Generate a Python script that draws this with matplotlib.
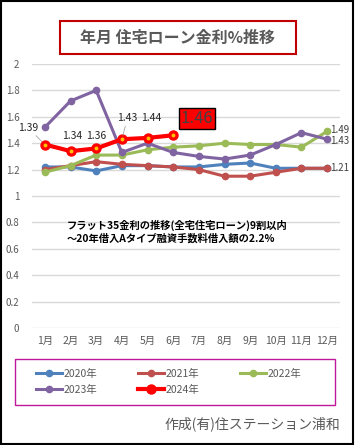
"""Monthly flat-35 housing loan rate chart, 2020-2024."""
import matplotlib
matplotlib.use("Agg")
import matplotlib.pyplot as plt
from matplotlib.patches import Rectangle

plt.rcParams["font.family"] = ["Noto Sans CJK JP", "DejaVu Sans"]

months = ["1月", "2月", "3月", "4月", "5月", "6月", "7月", "8月", "9月", "10月", "11月", "12月"]
rate_2020 = [1.22, 1.22, 1.19, 1.23, 1.23, 1.22, 1.22, 1.24, 1.25, 1.21, 1.21, 1.21]
rate_2021 = [1.20, 1.23, 1.26, 1.24, 1.23, 1.22, 1.20, 1.15, 1.15, 1.18, 1.21, 1.21]
rate_2022 = [1.18, 1.23, 1.31, 1.31, 1.35, 1.37, 1.38, 1.40, 1.39, 1.39, 1.37, 1.49]
rate_2023 = [1.52, 1.72, 1.80, 1.33, 1.40, 1.33, 1.30, 1.28, 1.31, 1.39, 1.48, 1.43]
rate_2024 = [1.39, 1.34, 1.36, 1.43, 1.44, 1.46]
yticks = [0, 0.2, 0.4, 0.6, 0.8, 1, 1.2, 1.4, 1.6, 1.8, 2]

W, H = 355, 445
fig = plt.figure(figsize=(W / 100, H / 100), dpi=100)
fig.patches.append(Rectangle((0.002, 0.002), 0.993, 0.995, transform=fig.transFigure,
                             fill=False, edgecolor="black", linewidth=1.5))

# title box
fig.patches.append(Rectangle((60 / W, 1 - 54 / H), 236 / W, 33 / H, transform=fig.transFigure,
                             fill=False, edgecolor="#C00000", linewidth=1.5))
fig.text(178 / W, 1 - 37.5 / H, "年月 住宅ローン金利%推移", ha="center", va="center",
         fontsize=11.5, fontweight="bold", color="#595959")

ax = fig.add_axes([32 / W, 1 - 328 / H, 308 / W, 264 / H])
x = list(range(len(months)))
grey = "#595959"

l20, = ax.plot(x, rate_2020, color="#4F81BD", lw=2.2, marker="o", ms=4.5, label="2020年")
l21, = ax.plot(x, rate_2021, color="#C0504D", lw=2.2, marker="o", ms=4.5, label="2021年")
l22, = ax.plot(x, rate_2022, color="#9BBB59", lw=2.2, marker="o", ms=4.5, label="2022年")
l23, = ax.plot(x, rate_2023, color="#8064A2", lw=2.2, marker="o", ms=4.5, label="2023年")
x24 = x[:len(rate_2024)]
l24, = ax.plot(x24, rate_2024, color="#FF0000", lw=3, marker="o", ms=6.5,
               markerfacecolor="#FF0000", markeredgecolor="#FF0000", label="2024年")
ax.plot(x24, rate_2024, ls="none", marker="o", ms=1.8, color="#FFC000")

ax.set_xlim(-0.5, 11.5)
ax.set_ylim(0, 2)
ax.set_yticks(yticks)
ax.set_yticklabels([f"{v:g}" for v in yticks])
ax.set_xticks(x)
ax.set_xticklabels(months)
ax.tick_params(axis="y", length=0, labelsize=7, labelcolor=grey, pad=9)
ax.tick_params(axis="x", length=0, labelsize=7.5, labelcolor=grey, pad=6)
ax.grid(axis="y", color="#D9D9D9", lw=1)
ax.set_axisbelow(True)
for s in ax.spines.values():
    s.set_visible(False)

# 2024 data labels
lead = dict(arrowstyle="-", color="#A6A6A6", lw=0.6, shrinkA=0, shrinkB=3)
offsets = [(-12, 12), (1, 11), (0, 9), (4, 15), (3, 14)]
for i, (dx, dy) in enumerate(offsets):
    ax.annotate(f"{rate_2024[i]:.2f}", (x24[i], rate_2024[i]), xytext=(dx, dy),
                textcoords="offset points", ha="center", va="center", fontsize=7.5,
                color="#262626", arrowprops=lead if i in (0, 3) else None)
ax.annotate(f"{rate_2024[-1]:.2f}", (x24[-1], rate_2024[-1]), xytext=(17, 12),
            textcoords="offset points", ha="center", va="center", fontsize=12,
            color="#404040",
            bbox=dict(boxstyle="square,pad=0.1", facecolor="#FF0000", edgecolor="black", lw=1))

# year-end labels
for series, dy in ((rate_2022, 1), (rate_2023, -1), (rate_2020, 0)):
    ax.annotate(f"{series[-1]:.2f}", (11, series[-1]), xytext=(2, dy),
                textcoords="offset points", ha="left", va="center", fontsize=7,
                color="#404040")

ax.text(0.86, 0.73, "フラット35金利の推移(全宅住宅ローン)9割以内\n～20年借入Aタイプ融資手数料借入額の2.2%",
        ha="left", va="center", fontsize=7.4, fontweight="bold", color="black",
        linespacing=1.2)

# legend frame drawn separately so the entries can sit where the original has them
fig.patches.append(Rectangle((15 / W, 1 - 405 / H), 320 / W, 46 / H, transform=fig.transFigure,
                             fill=False, edgecolor="#C0189A", linewidth=1))
handles = [l20, l23, l21, l24, l22]
fig.legend(handles=handles, labels=[h.get_label() for h in handles],
           loc="center left", bbox_to_anchor=(36 / W, 1 - 382 / H),
           ncol=3, fontsize=7.5, frameon=False,
           handlelength=2.5, handletextpad=0.15, borderpad=0, labelspacing=0.55,
           columnspacing=3.9, labelcolor=grey, borderaxespad=0)

fig.text(340 / W, 1 - 424 / H, "作成(有)住ステーション浦和", ha="right", va="center",
         fontsize=10, color=grey)

fig.savefig("out.png", dpi=100)
